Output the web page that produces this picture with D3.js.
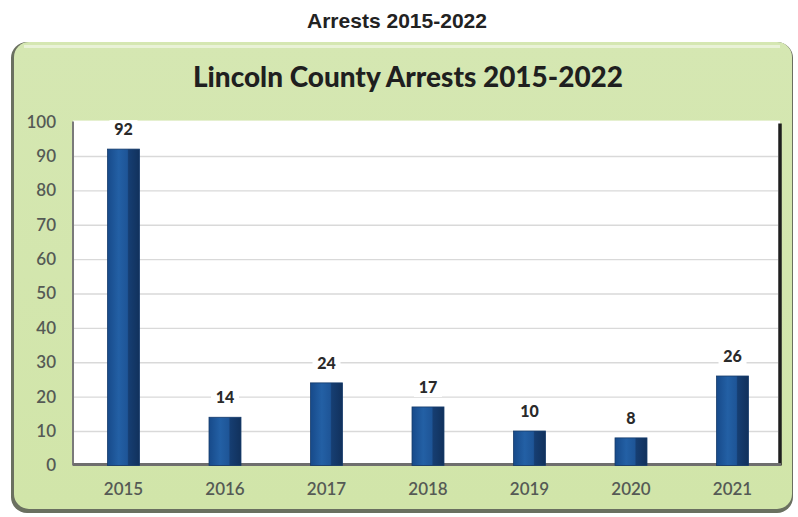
<!DOCTYPE html>
<html>
<head>
<meta charset="utf-8">
<script src="https://cdn.jsdelivr.net/npm/d3@7"></script>
<style>
  html, body { margin: 0; padding: 0; background: #fff; }
  svg { display: block; }
</style>
</head>
<body>
<svg id="chart" width="798" height="517"></svg>
<script>
// Data
const years = ["2015", "2016", "2017", "2018", "2019", "2020", "2021"];
const arrests = [92, 14, 24, 17, 10, 8, 26];
const yTicks = [0, 10, 20, 30, 40, 50, 60, 70, 80, 90, 100];
const pageTitle = "Arrests 2015-2022";
const chartTitle = "Lincoln County Arrests 2015-2022";

const svg = d3.select("#chart");
const defs = svg.append("defs");

// Frame fill
const frameGrad = defs.append("linearGradient").attr("id", "frameGrad")
  .attr("x1", 0).attr("y1", 0).attr("x2", 0).attr("y2", 1);
frameGrad.append("stop").attr("offset", "0%").attr("stop-color", "#d5e7b2");
frameGrad.append("stop").attr("offset", "100%").attr("stop-color", "#d1e5a9");

// Bar shading: lighter left face, darker right side
const barGrad = defs.append("linearGradient").attr("id", "barGrad")
  .attr("x1", 0).attr("y1", 0).attr("x2", 1).attr("y2", 0);
barGrad.append("stop").attr("offset", "0%").attr("stop-color", "#174a8a");
barGrad.append("stop").attr("offset", "35%").attr("stop-color", "#2360a5");
barGrad.append("stop").attr("offset", "62%").attr("stop-color", "#1e5597");
barGrad.append("stop").attr("offset", "66%").attr("stop-color", "#163e72");
barGrad.append("stop").attr("offset", "100%").attr("stop-color", "#11315c");

const blur = defs.append("filter").attr("id", "soft")
  .attr("x", "-5%").attr("y", "-5%").attr("width", "110%").attr("height", "110%");
blur.append("feGaussianBlur").attr("stdDeviation", 0.6);

// Page heading
svg.append("text")
  .attr("x", 397).attr("y", 28)
  .attr("text-anchor", "middle")
  .attr("font-family", "'Liberation Sans Narrow', 'Liberation Sans', Arial, sans-serif")
  .attr("font-weight", "bold")
  .attr("font-size", 21)
  .attr("fill", "#222")
  .attr("textLength", 180)
  .attr("lengthAdjust", "spacingAndGlyphs")
  .text(pageTitle);

// Chart frame with shadowed edge
svg.append("rect")
  .attr("x", 11).attr("y", 42).attr("width", 782).attr("height", 471)
  .attr("rx", 16).attr("ry", 16)
  .attr("fill", "#6a6f60")
  .attr("filter", "url(#soft)");
svg.append("rect")
  .attr("x", 14).attr("y", 42).attr("width", 778).attr("height", 467)
  .attr("rx", 15).attr("ry", 15)
  .attr("fill", "url(#frameGrad)");
svg.append("rect")
  .attr("x", 24).attr("y", 45).attr("width", 756).attr("height", 3)
  .attr("fill", "#eef5e0").attr("opacity", 0.8);

// Scales
const margin = { left: 73, right: 783, top: 121.6, bottom: 465.4 };
const x = d3.scaleBand().domain(years).range([margin.left, margin.right])
  .paddingInner(0.685).paddingOuter(0.34);
const y = d3.scaleLinear().domain([0, 100]).range([margin.bottom, margin.top]);

// Plot area
svg.append("rect")
  .attr("x", margin.left).attr("y", y(100) - 1)
  .attr("width", 707).attr("height", y(0) - y(100) + 1)
  .attr("fill", "#ffffff");

// Gridlines
svg.append("g")
  .attr("transform", `translate(${margin.left},0)`)
  .call(d3.axisLeft(y).tickValues(yTicks.filter(d => d > 0 && d < 100)).tickSize(-705).tickFormat(""))
  .call(g => g.select(".domain").remove())
  .call(g => g.selectAll("line").attr("stroke", "#d9d9d9").attr("stroke-width", 1.3));

// Left wall and right edge
svg.append("line")
  .attr("x1", margin.left).attr("x2", margin.left)
  .attr("y1", y(100)).attr("y2", y(0))
  .attr("stroke", "#7a7a7a").attr("stroke-width", 2);
svg.append("line")
  .attr("x1", 780).attr("x2", 780)
  .attr("y1", y(100) + 2).attr("y2", y(0))
  .attr("stroke", "#1e1e1e").attr("stroke-width", 3.5);

// Floor
svg.append("line")
  .attr("x1", margin.left).attr("x2", 781)
  .attr("y1", y(0) - 1).attr("y2", y(0) - 1)
  .attr("stroke", "#6e6e6e").attr("stroke-width", 3);

// Y axis labels
svg.append("g")
  .attr("transform", `translate(56,0)`)
  .call(d3.axisLeft(y).tickValues(yTicks).tickSize(0).tickPadding(0))
  .call(g => g.select(".domain").remove())
  .call(g => g.selectAll("text")
    .attr("font-family", "Lato, 'Open Sans', sans-serif")
    .attr("font-size", 17)
    .attr("font-weight", 600)
    .attr("fill", "#555a55"));

// X axis labels
svg.append("g")
  .attr("transform", `translate(0,${y(0)})`)
  .call(d3.axisBottom(x).tickSize(0).tickPadding(18))
  .call(g => g.select(".domain").remove())
  .call(g => g.selectAll("text")
    .attr("font-family", "Lato, 'Open Sans', sans-serif")
    .attr("font-size", 17)
    .attr("font-weight", 600)
    .attr("fill", "#555a55"));

// Bars
const bars = svg.append("g");
bars.selectAll("rect.bar")
  .data(arrests)
  .join("rect")
  .attr("class", "bar")
  .attr("x", (d, i) => x(years[i]))
  .attr("y", d => y(d))
  .attr("width", x.bandwidth())
  .attr("height", d => y(0) - y(d))
  .attr("fill", "url(#barGrad)")
  .attr("stroke", "#143a6a")
  .attr("stroke-width", 0.8);

// Value labels with white backing
const labels = svg.append("g");
labels.selectAll("rect")
  .data(arrests)
  .join("rect")
  .attr("x", (d, i) => x(years[i]) + x.bandwidth() / 2 - 14)
  .attr("y", d => y(d) - 29)
  .attr("width", 28).attr("height", 19)
  .attr("fill", "#ffffff");
labels.selectAll("text")
  .data(arrests)
  .join("text")
  .attr("x", (d, i) => x(years[i]) + x.bandwidth() / 2)
  .attr("y", d => y(d) - 14)
  .attr("text-anchor", "middle")
  .attr("font-family", "Lato, 'Open Sans', sans-serif")
  .attr("font-weight", 900)
  .attr("font-size", 16)
  .attr("fill", "#2a2a2a")
  .text(d => d);

// Chart title
svg.append("text")
  .attr("x", 408).attr("y", 87)
  .attr("text-anchor", "middle")
  .attr("font-family", "Lato, 'Open Sans', sans-serif")
  .attr("font-weight", 900)
  .attr("font-size", 28)
  .attr("fill", "#1f1f1f")
  .attr("textLength", 430)
  .attr("lengthAdjust", "spacingAndGlyphs")
  .text(chartTitle);
</script>
</body>
</html>
